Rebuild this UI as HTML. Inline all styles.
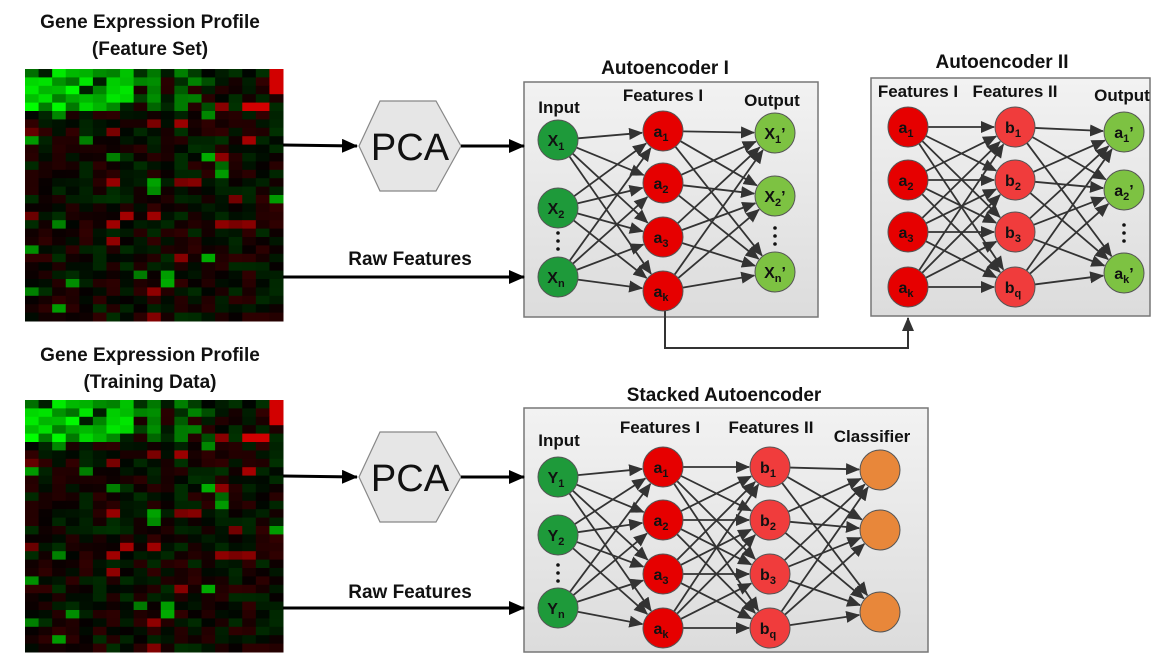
<!DOCTYPE html>
<html><head><meta charset="utf-8"><style>
html,body{margin:0;padding:0;background:#fff;width:1176px;height:666px;overflow:hidden}
svg{display:block}
text{font-family:"Liberation Sans",sans-serif;font-weight:bold;fill:#111}
.t{font-size:19px}
.n{font-size:16px;text-anchor:middle}
.s{font-size:11px}
</style></head><body>
<svg id="s" width="1176" height="666" viewBox="0 0 1176 666" xmlns="http://www.w3.org/2000/svg">
<defs>
<marker id="ag" markerWidth="14" markerHeight="12" refX="13" refY="6" orient="auto" markerUnits="userSpaceOnUse"><path d="M0,0 L14,6 L0,12 z" fill="#333"/></marker>
<marker id="ak" markerWidth="16" markerHeight="14" refX="15" refY="7" orient="auto" markerUnits="userSpaceOnUse"><path d="M0,0 L16,7 L0,14 z" fill="#000"/></marker>
<linearGradient id="bx" x1="0" y1="0" x2="0" y2="1"><stop offset="0" stop-color="#f2f2f2"/><stop offset="1" stop-color="#dcdcdc"/></linearGradient>
</defs>
<g id="hm"></g>
<text class="t" x="150" y="28" text-anchor="middle">Gene Expression Profile</text>
<text class="t" x="150" y="55" text-anchor="middle">(Feature Set)</text>
<text class="t" x="150" y="361" text-anchor="middle">Gene Expression Profile</text>
<text class="t" x="150" y="388" text-anchor="middle">(Training Data)</text>

<rect x="524" y="82" width="294" height="235" fill="url(#bx)" stroke="#777" stroke-width="1.5"/>
<rect x="871" y="78" width="279" height="238" fill="url(#bx)" stroke="#777" stroke-width="1.5"/>
<rect x="524" y="408" width="404" height="244" fill="url(#bx)" stroke="#777" stroke-width="1.5"/>

<text class="t" x="665" y="74" text-anchor="middle">Autoencoder I</text>
<text class="t" x="1002" y="68" text-anchor="middle">Autoencoder II</text>
<text class="t" x="724" y="401" text-anchor="middle">Stacked Autoencoder</text>

<text class="t" style="font-size:17px" x="559" y="113" text-anchor="middle">Input</text>
<text class="t" style="font-size:17px" x="663" y="101" text-anchor="middle">Features I</text>
<text class="t" style="font-size:17px" x="772" y="106" text-anchor="middle">Output</text>
<text class="t" style="font-size:17px" x="918" y="97" text-anchor="middle">Features I</text>
<text class="t" style="font-size:17px" x="1015" y="97" text-anchor="middle">Features II</text>
<text class="t" style="font-size:17px" x="1122" y="101" text-anchor="middle">Output</text>
<text class="t" style="font-size:17px" x="559" y="446" text-anchor="middle">Input</text>
<text class="t" style="font-size:17px" x="660" y="433" text-anchor="middle">Features I</text>
<text class="t" style="font-size:17px" x="771" y="433" text-anchor="middle">Features II</text>
<text class="t" style="font-size:17px" x="872" y="442" text-anchor="middle">Classifier</text>

<polygon points="359,146 380,101 436,101 461,146 436,191 380,191" fill="#e6e6e6" stroke="#888" stroke-width="1.2"/>
<text x="410" y="160" text-anchor="middle" style="font-weight:normal;font-size:38px">PCA</text>
<polygon points="359,477 380,432 436,432 461,477 436,522 380,522" fill="#e6e6e6" stroke="#888" stroke-width="1.2"/>
<text x="410" y="491" text-anchor="middle" style="font-weight:normal;font-size:38px">PCA</text>

<g stroke="#000" stroke-width="3" fill="none">
<line x1="283" y1="145" x2="357" y2="146" marker-end="url(#ak)"/>
<line x1="461" y1="146" x2="524" y2="146" marker-end="url(#ak)"/>
<line x1="283" y1="277" x2="524" y2="277" marker-end="url(#ak)"/>
<line x1="283" y1="476" x2="357" y2="477" marker-end="url(#ak)"/>
<line x1="461" y1="477" x2="524" y2="477" marker-end="url(#ak)"/>
<line x1="283" y1="608" x2="524" y2="608" marker-end="url(#ak)"/>
</g>
<text class="t" x="410" y="265" text-anchor="middle">Raw Features</text>
<text class="t" x="410" y="598" text-anchor="middle">Raw Features</text>

<polyline points="665,311 665,348 908,348 908,318" fill="none" stroke="#333" stroke-width="2" marker-end="url(#ag)"/>

<g id="edges" stroke="#333" stroke-width="1.8"></g>

<g stroke="#555" stroke-width="1">
<circle cx="558" cy="140" r="20" fill="#1e9a3a"/><circle cx="558" cy="208" r="20" fill="#1e9a3a"/><circle cx="558" cy="277" r="20" fill="#1e9a3a"/>
<circle cx="663" cy="131" r="20" fill="#e60000"/><circle cx="663" cy="183" r="20" fill="#e60000"/><circle cx="663" cy="237" r="20" fill="#e60000"/><circle cx="663" cy="291" r="20" fill="#e60000"/>
<circle cx="775" cy="133" r="20" fill="#7dc242"/><circle cx="775" cy="196" r="20" fill="#7dc242"/><circle cx="775" cy="272" r="20" fill="#7dc242"/>
<circle cx="908" cy="127" r="20" fill="#e60000"/><circle cx="908" cy="180" r="20" fill="#e60000"/><circle cx="908" cy="232" r="20" fill="#e60000"/><circle cx="908" cy="287" r="20" fill="#e60000"/>
<circle cx="1015" cy="127" r="20" fill="#f03c3c"/><circle cx="1015" cy="180" r="20" fill="#f03c3c"/><circle cx="1015" cy="232" r="20" fill="#f03c3c"/><circle cx="1015" cy="287" r="20" fill="#f03c3c"/>
<circle cx="1124" cy="132" r="20" fill="#7dc242"/><circle cx="1124" cy="190" r="20" fill="#7dc242"/><circle cx="1124" cy="273" r="20" fill="#7dc242"/>
<circle cx="558" cy="477" r="20" fill="#1e9a3a"/><circle cx="558" cy="535" r="20" fill="#1e9a3a"/><circle cx="558" cy="608" r="20" fill="#1e9a3a"/>
<circle cx="663" cy="467" r="20" fill="#e60000"/><circle cx="663" cy="520" r="20" fill="#e60000"/><circle cx="663" cy="574" r="20" fill="#e60000"/><circle cx="663" cy="628" r="20" fill="#e60000"/>
<circle cx="770" cy="467" r="20" fill="#f03c3c"/><circle cx="770" cy="520" r="20" fill="#f03c3c"/><circle cx="770" cy="574" r="20" fill="#f03c3c"/><circle cx="770" cy="628" r="20" fill="#f03c3c"/>
<circle cx="880" cy="470" r="20" fill="#e8873a"/><circle cx="880" cy="530" r="20" fill="#e8873a"/><circle cx="880" cy="612" r="20" fill="#e8873a"/>
</g>

<g fill="#111">
<circle cx="558" cy="233" r="1.8"/><circle cx="558" cy="241" r="1.8"/><circle cx="558" cy="249" r="1.8"/>
<circle cx="775" cy="228" r="1.8"/><circle cx="775" cy="236" r="1.8"/><circle cx="775" cy="244" r="1.8"/>
<circle cx="1124" cy="225" r="1.8"/><circle cx="1124" cy="233" r="1.8"/><circle cx="1124" cy="241" r="1.8"/>
<circle cx="558" cy="565" r="1.8"/><circle cx="558" cy="573" r="1.8"/><circle cx="558" cy="581" r="1.8"/>
</g>

<g>
<text class="n" x="556" y="146">X<tspan class="s" dy="4">1</tspan></text>
<text class="n" x="556" y="214">X<tspan class="s" dy="4">2</tspan></text>
<text class="n" x="556" y="283">X<tspan class="s" dy="4">n</tspan></text>
<text class="n" x="661" y="137">a<tspan class="s" dy="4">1</tspan></text>
<text class="n" x="661" y="189">a<tspan class="s" dy="4">2</tspan></text>
<text class="n" x="661" y="243">a<tspan class="s" dy="4">3</tspan></text>
<text class="n" x="661" y="297">a<tspan class="s" dy="4">k</tspan></text>
<text class="n" x="775" y="139">X<tspan class="s" dy="4">1</tspan><tspan dy="-4">’</tspan></text>
<text class="n" x="775" y="202">X<tspan class="s" dy="4">2</tspan><tspan dy="-4">’</tspan></text>
<text class="n" x="775" y="278">X<tspan class="s" dy="4">n</tspan><tspan dy="-4">’</tspan></text>
<text class="n" x="906" y="133">a<tspan class="s" dy="4">1</tspan></text>
<text class="n" x="906" y="186">a<tspan class="s" dy="4">2</tspan></text>
<text class="n" x="906" y="238">a<tspan class="s" dy="4">3</tspan></text>
<text class="n" x="906" y="293">a<tspan class="s" dy="4">k</tspan></text>
<text class="n" x="1013" y="133">b<tspan class="s" dy="4">1</tspan></text>
<text class="n" x="1013" y="186">b<tspan class="s" dy="4">2</tspan></text>
<text class="n" x="1013" y="238">b<tspan class="s" dy="4">3</tspan></text>
<text class="n" x="1013" y="293">b<tspan class="s" dy="4">q</tspan></text>
<text class="n" x="1124" y="138">a<tspan class="s" dy="4">1</tspan><tspan dy="-4">’</tspan></text>
<text class="n" x="1124" y="196">a<tspan class="s" dy="4">2</tspan><tspan dy="-4">’</tspan></text>
<text class="n" x="1124" y="279">a<tspan class="s" dy="4">k</tspan><tspan dy="-4">’</tspan></text>
<text class="n" x="556" y="483">Y<tspan class="s" dy="4">1</tspan></text>
<text class="n" x="556" y="541">Y<tspan class="s" dy="4">2</tspan></text>
<text class="n" x="556" y="614">Y<tspan class="s" dy="4">n</tspan></text>
<text class="n" x="661" y="473">a<tspan class="s" dy="4">1</tspan></text>
<text class="n" x="661" y="526">a<tspan class="s" dy="4">2</tspan></text>
<text class="n" x="661" y="580">a<tspan class="s" dy="4">3</tspan></text>
<text class="n" x="661" y="634">a<tspan class="s" dy="4">k</tspan></text>
<text class="n" x="768" y="473">b<tspan class="s" dy="4">1</tspan></text>
<text class="n" x="768" y="526">b<tspan class="s" dy="4">2</tspan></text>
<text class="n" x="768" y="580">b<tspan class="s" dy="4">3</tspan></text>
<text class="n" x="768" y="634">b<tspan class="s" dy="4">q</tspan></text>
</g>
</svg>
<script>
(function(){
var NS="http://www.w3.org/2000/svg";
var hm=document.getElementById("hm");
var seed=11;function r(){seed=(seed*16807)%2147483647;return seed/2147483647;}
function heat(x0,y0){
 var cols=19,rows=30,w=258/cols,h=252/rows;
 for(var i=0;i<rows;i++)for(var j=0;j<cols;j++){
  var g=0,rd=0;
  if(i<5&&j<8){g=110+Math.floor(r()*145);if(r()<0.15)g=30;}
  else if(i<5&&j<14&&r()<0.55){g=40+Math.floor(r()*110);}
  else{
   if(r()<0.5){rd=5+Math.floor(r()*45);}else{g=5+Math.floor(r()*45);}
   var q=r();
   if(q<0.05)g=90+Math.floor(r()*90),rd=0;
   else if(q<0.09)rd=100+Math.floor(r()*70),g=0;
  }
  if((i<3&&j==18)||(i==4&&(j==16||j==17))){rd=210;g=0;}
  var e=document.createElementNS(NS,"rect");
  e.setAttribute("x",(x0+j*w).toFixed(2));e.setAttribute("y",(y0+i*h).toFixed(2));
  e.setAttribute("width",(w+0.5).toFixed(2));e.setAttribute("height",(h+0.5).toFixed(2));
  e.setAttribute("fill","rgb("+rd+","+g+",0)");hm.appendChild(e);
 }
}
heat(25,69);seed=11;heat(25,400);
var E=document.getElementById("edges");
function conn(A,B,x1,x2){
 A.forEach(function(a){B.forEach(function(b){
  var dx=x2-x1,dy=b-a,L=Math.sqrt(dx*dx+dy*dy);
  var l=document.createElementNS(NS,"line");
  l.setAttribute("x1",x1+20*dx/L);l.setAttribute("y1",a+20*dy/L);
  l.setAttribute("x2",x2-21*dx/L);l.setAttribute("y2",b-21*dy/L);
  l.setAttribute("marker-end","url(#ag)");E.appendChild(l);
 });});
}
conn([140,208,277],[131,183,237,291],558,663);
conn([131,183,237,291],[133,196,272],663,775);
conn([127,180,232,287],[127,180,232,287],908,1015);
conn([127,180,232,287],[132,190,273],1015,1124);
conn([477,535,608],[467,520,574,628],558,663);
conn([467,520,574,628],[467,520,574,628],663,770);
conn([467,520,574,628],[470,530,612],770,880);
})();
</script>
</body></html>
